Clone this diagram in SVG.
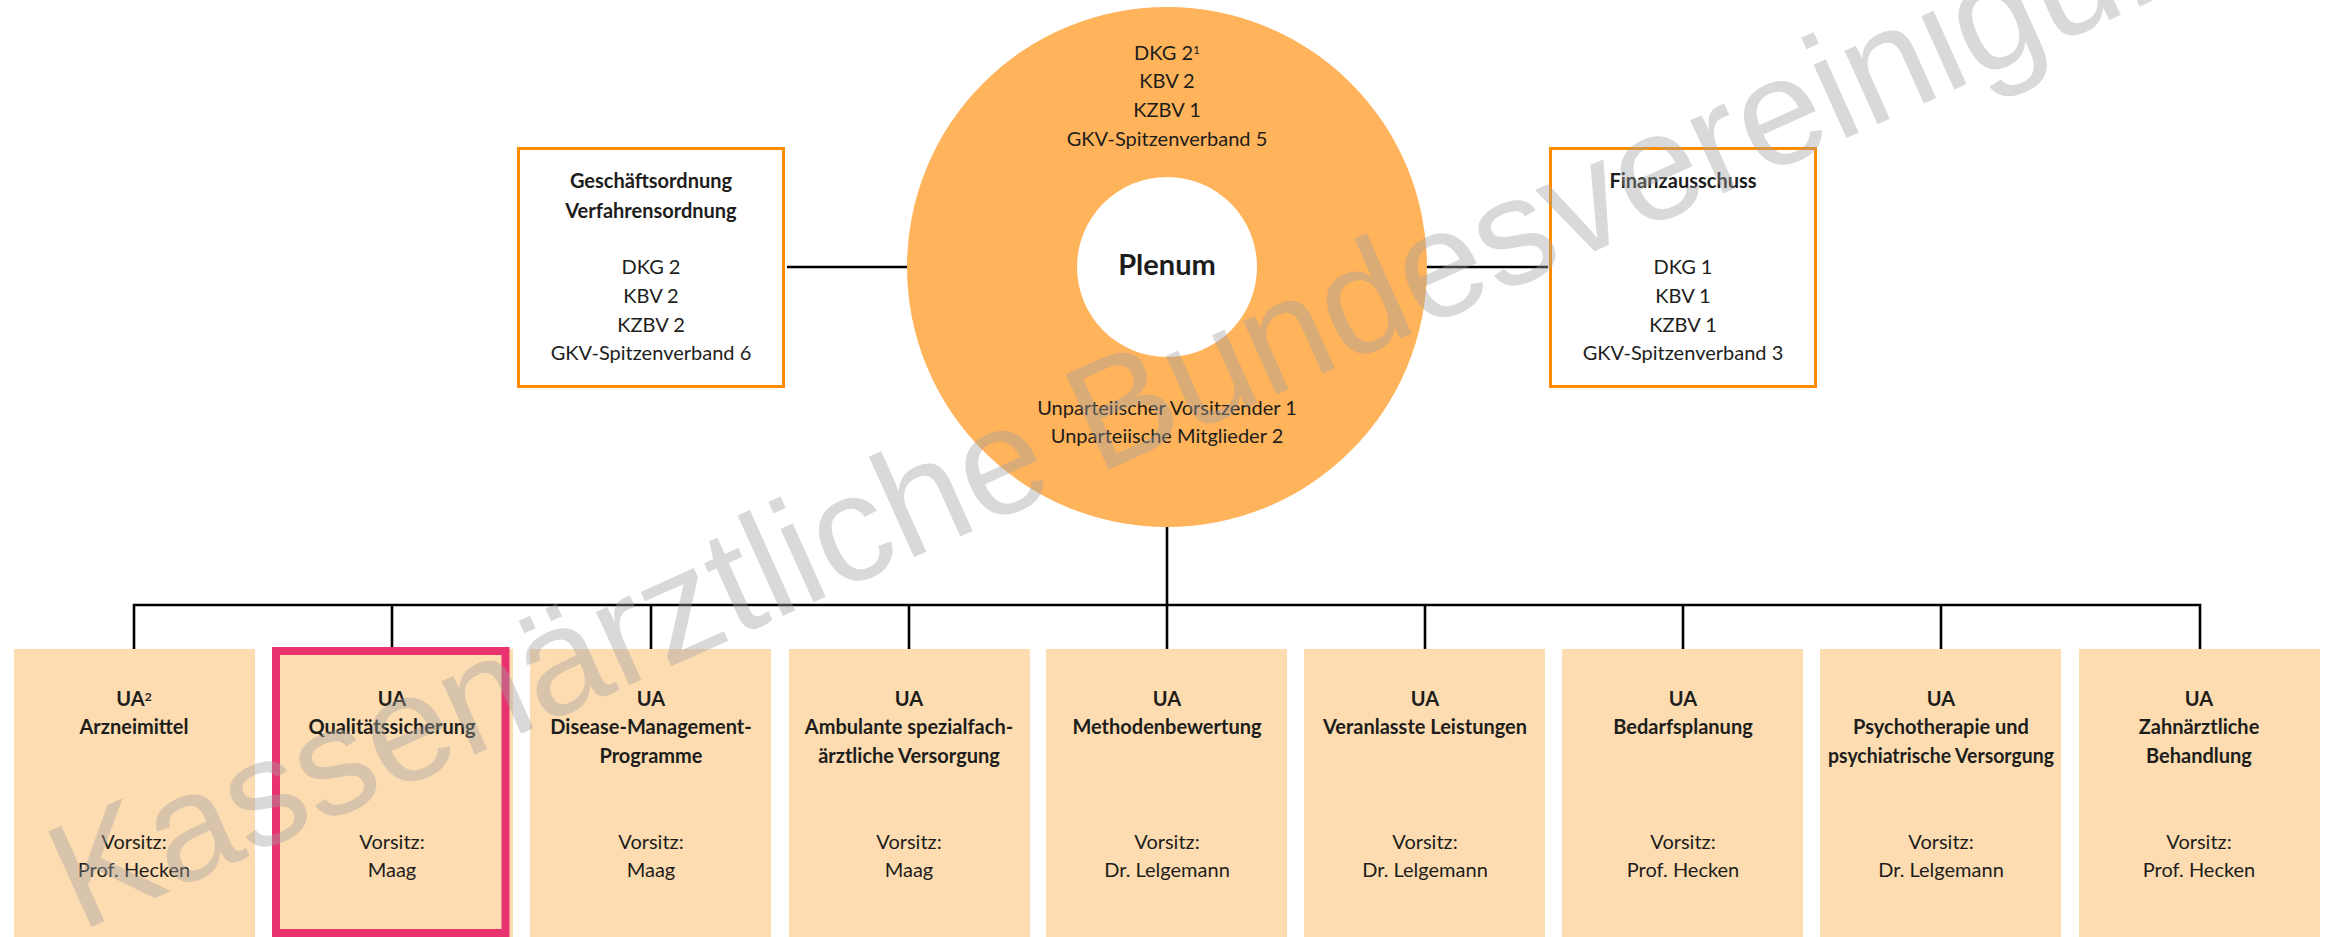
<svg xmlns="http://www.w3.org/2000/svg" width="2333" height="937" viewBox="0 0 2333 937">
<style>
.t{font-family:Lato,"Open Sans",sans-serif;font-size:20px;fill:#1d1d1b;text-anchor:middle}
.b{font-weight:bold}
.pl{font-size:29px;font-weight:bold}
.sup{font-size:12px}
.ob{fill:#fff;stroke:#ff8c00;stroke-width:3}
.ua{fill:#fddcb1}
.cn{stroke:#000;stroke-width:2.6;fill:none}
.wm{font-family:"Liberation Sans",Arial,sans-serif;font-size:152px;fill:#a0a0a0;fill-opacity:0.4}
</style>
<rect width="2333" height="937" fill="#fff"/>
<g id="connectors">
<line class="cn" x1="787" y1="267" x2="907" y2="267"/>
<line class="cn" x1="1426" y1="267" x2="1548" y2="267"/>
<line class="cn" x1="1167" y1="526" x2="1167" y2="649"/>
<polyline class="cn" points="134,649 134,605 2200,605 2200,649"/>
<line class="cn" x1="392" y1="605" x2="392" y2="647"/>
<line class="cn" x1="651" y1="605" x2="651" y2="649"/>
<line class="cn" x1="909" y1="605" x2="909" y2="649"/>
<line class="cn" x1="1425" y1="605" x2="1425" y2="649"/>
<line class="cn" x1="1683" y1="605" x2="1683" y2="649"/>
<line class="cn" x1="1941" y1="605" x2="1941" y2="649"/>
</g>
<g id="plenum">
<circle cx="1167" cy="267" r="260" fill="#ffb35a"/>
<circle cx="1167" cy="267" r="90" fill="#fff"/>
<text class="t" x="1167" y="60">DKG 2<tspan class="sup" dy="-6">1</tspan></text>
<text class="t" x="1167" y="88">KBV 2</text>
<text class="t" x="1167" y="117">KZBV 1</text>
<text class="t" x="1167" y="146">GKV-Spitzenverband 5</text>
<text class="t pl" x="1167" y="275">Plenum</text>
<text class="t" x="1167" y="415">Unparteiischer Vorsitzender 1</text>
<text class="t" x="1167" y="443">Unparteiische Mitglieder 2</text>
</g>
<g id="geschaeftsordnung">
<rect class="ob" x="518.5" y="148.5" width="265" height="238"/>
<text class="t b" x="651" y="188">Geschäftsordnung</text>
<text class="t b" x="651" y="218">Verfahrensordnung</text>
<text class="t" x="651" y="274">DKG 2</text>
<text class="t" x="651" y="303">KBV 2</text>
<text class="t" x="651" y="332">KZBV 2</text>
<text class="t" x="651" y="360">GKV-Spitzenverband 6</text>
</g>
<g id="finanzausschuss">
<rect class="ob" x="1550.5" y="148.5" width="265" height="238"/>
<text class="t b" x="1683" y="188">Finanzausschuss</text>
<text class="t" x="1683" y="274">DKG 1</text>
<text class="t" x="1683" y="303">KBV 1</text>
<text class="t" x="1683" y="332">KZBV 1</text>
<text class="t" x="1683" y="360">GKV-Spitzenverband 3</text>
</g>
<g id="ua-arzneimittel">
<rect class="ua" x="14" y="649" width="241" height="288"/>
<text class="t b" x="134" y="706">UA<tspan class="sup" dy="-5">2</tspan></text>
<text class="t b" x="134" y="734">Arzneimittel</text>
<text class="t" x="134" y="849">Vorsitz:</text>
<text class="t" x="134" y="877">Prof. Hecken</text>
</g>
<g id="ua-qualitaetssicherung">
<rect class="ua" x="272" y="649" width="241" height="288"/>
<rect x="276" y="651" width="229.5" height="282" fill="none" stroke="#e8336f" stroke-width="8"/>
<text class="t b" x="392" y="706">UA</text>
<text class="t b" x="392" y="734">Qualitätssicherung</text>
<text class="t" x="392" y="849">Vorsitz:</text>
<text class="t" x="392" y="877">Maag</text>
</g>
<g id="ua-dmp">
<rect class="ua" x="530" y="649" width="241" height="288"/>
<text class="t b" x="651" y="706">UA</text>
<text class="t b" x="651" y="734">Disease-Management-</text>
<text class="t b" x="651" y="763">Programme</text>
<text class="t" x="651" y="849">Vorsitz:</text>
<text class="t" x="651" y="877">Maag</text>
</g>
<g id="ua-asv">
<rect class="ua" x="789" y="649" width="241" height="288"/>
<text class="t b" x="909" y="706">UA</text>
<text class="t b" x="909" y="734">Ambulante spezialfach-</text>
<text class="t b" x="909" y="763">ärztliche Versorgung</text>
<text class="t" x="909" y="849">Vorsitz:</text>
<text class="t" x="909" y="877">Maag</text>
</g>
<g id="ua-methodenbewertung">
<rect class="ua" x="1046" y="649" width="241" height="288"/>
<text class="t b" x="1167" y="706">UA</text>
<text class="t b" x="1167" y="734">Methodenbewertung</text>
<text class="t" x="1167" y="849">Vorsitz:</text>
<text class="t" x="1167" y="877">Dr. Lelgemann</text>
</g>
<g id="ua-veranlasste">
<rect class="ua" x="1304" y="649" width="241" height="288"/>
<text class="t b" x="1425" y="706">UA</text>
<text class="t b" x="1425" y="734">Veranlasste Leistungen</text>
<text class="t" x="1425" y="849">Vorsitz:</text>
<text class="t" x="1425" y="877">Dr. Lelgemann</text>
</g>
<g id="ua-bedarfsplanung">
<rect class="ua" x="1562" y="649" width="241" height="288"/>
<text class="t b" x="1683" y="706">UA</text>
<text class="t b" x="1683" y="734">Bedarfsplanung</text>
<text class="t" x="1683" y="849">Vorsitz:</text>
<text class="t" x="1683" y="877">Prof. Hecken</text>
</g>
<g id="ua-psychotherapie">
<rect class="ua" x="1820" y="649" width="241" height="288"/>
<text class="t b" x="1941" y="706">UA</text>
<text class="t b" x="1941" y="734">Psychotherapie und</text>
<text class="t b" x="1941" y="763" textLength="226" lengthAdjust="spacingAndGlyphs">psychiatrische Versorgung</text>
<text class="t" x="1941" y="849">Vorsitz:</text>
<text class="t" x="1941" y="877">Dr. Lelgemann</text>
</g>
<g id="ua-zahnaerztlich">
<rect class="ua" x="2079" y="649" width="241" height="288"/>
<text class="t b" x="2199" y="706">UA</text>
<text class="t b" x="2199" y="734">Zahnärztliche</text>
<text class="t b" x="2199" y="763">Behandlung</text>
<text class="t" x="2199" y="849">Vorsitz:</text>
<text class="t" x="2199" y="877">Prof. Hecken</text>
</g>
<g id="watermark">
<text class="wm" transform="translate(80,932) rotate(-24.2)">Kassenärztliche Bundesvereinigung</text>
</g>
</svg>
